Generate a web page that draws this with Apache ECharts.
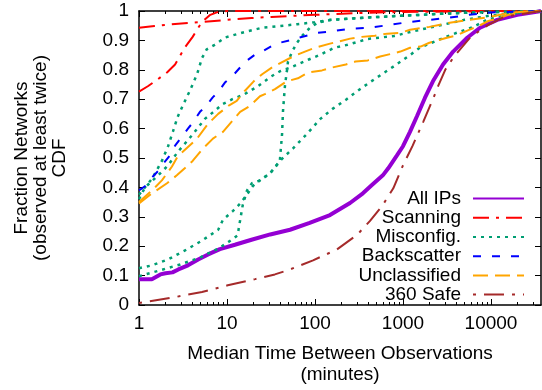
<!DOCTYPE html>
<html>
<head>
<meta charset="utf-8">
<script src="https://cdn.jsdelivr.net/npm/echarts@6/dist/echarts.min.js"></script>
<style>
  html, body { margin: 0; padding: 0; background: #fff; }
  #chart { width: 542px; height: 390px; }
</style>
</head>
<body>
<div id="chart"></div>
<script>
// Median time between observations (minutes) vs. cumulative fraction of networks.
// Each curve is a list of [minutes, fraction] points.

const xMajorTicks = [1, 10, 100, 1000, 10000];
const xMinorTicks = [2, 3, 4, 5, 6, 7, 8, 9, 20, 30, 40, 50, 60, 70, 80, 90,
  200, 300, 400, 500, 600, 700, 800, 900, 2000, 3000, 4000, 5000, 6000, 7000, 8000, 9000,
  20000, 30000];
const xMax = 37000;

const allIps = [[1, 0.088], [1.4, 0.088], [1.75, 0.104], [2.0, 0.108], [2.4, 0.111], [2.8, 0.121],
  [3.6, 0.135], [4.7, 0.155], [6.1, 0.172], [8.3, 0.19], [12.3, 0.205], [19, 0.222], [31, 0.24],
  [52, 0.256], [87, 0.279], [148, 0.306], [250, 0.347], [350, 0.38], [440, 0.407], [590, 0.441],
  [680, 0.465], [850, 0.508], [1000, 0.54], [1200, 0.589], [1445, 0.643], [1778, 0.705],
  [2188, 0.761], [2851, 0.818], [3715, 0.862], [5370, 0.909], [7500, 0.943], [11750, 0.97],
  [19950, 0.987], [33000, 0.997], [37000, 1.0]];

const scanningA = [[1, 0.943], [1.5, 0.949], [2.57, 0.956], [5.2, 0.963], [10.2, 0.97], [19, 0.976],
  [32, 0.98], [100, 0.987], [316, 0.993], [1000, 0.997], [37000, 1.0]];
const scanningB = [[1, 0.726], [1.26, 0.744], [1.64, 0.768], [2.08, 0.791], [2.57, 0.818], [3.3, 0.875],
  [4.07, 0.912], [5.2, 0.963], [6.46, 0.987], [7.94, 0.997], [10, 1.0], [37000, 1.0]];

const misconfigA = [[1, 0.375], [1.41, 0.43], [1.82, 0.49], [2.14, 0.54], [2.43, 0.59], [2.75, 0.64],
  [3.16, 0.68], [3.8, 0.73], [4.57, 0.785], [5.2, 0.84], [5.9, 0.87], [7.24, 0.885], [9.55, 0.91],
  [14.8, 0.926], [25, 0.943], [32, 0.946], [63, 0.955], [100, 0.962], [158, 0.97], [398, 0.978],
  [1000, 0.984], [2512, 0.99], [6310, 0.995], [37000, 1.0]];
const misconfigB = [[1, 0.36], [1.17, 0.40], [1.64, 0.44], [2.14, 0.475], [2.75, 0.52], [4.07, 0.58],
  [5.6, 0.633], [7.24, 0.66], [8.9, 0.683], [11.5, 0.70], [15.8, 0.717], [22.4, 0.744], [32, 0.778],
  [40, 0.795], [55, 0.81], [85, 0.835], [112, 0.85], [166, 0.875], [234, 0.885], [398, 0.905],
  [794, 0.915], [1259, 0.93], [2512, 0.95], [5012, 0.97], [10000, 0.985], [37000, 1.0]];
const misconfigC = [[1, 0.125], [1.41, 0.135], [2.14, 0.155], [3.3, 0.185], [5.2, 0.219], [7.94, 0.256],
  [9.0, 0.29], [11.7, 0.32], [14.1, 0.345], [17, 0.377], [19.7, 0.405], [23.7, 0.424], [30.9, 0.448],
  [39.8, 0.49], [56, 0.532], [81, 0.582], [115, 0.633], [158, 0.667], [229, 0.70], [324, 0.734],
  [422, 0.758], [769, 0.81], [1202, 0.85], [1549, 0.875], [2455, 0.90], [4074, 0.926], [6310, 0.946],
  [8913, 0.97], [15849, 0.99], [37000, 1.0]];
const misconfigD = [[1, 0.098], [1.74, 0.118], [2.95, 0.138], [5.0, 0.162], [8.3, 0.195], [11.7, 0.225],
  [13.2, 0.237], [14.06, 0.286], [15.1, 0.34], [16.9, 0.39], [19.2, 0.414], [23.7, 0.424], [30.9, 0.448],
  [39.8, 0.488], [42.2, 0.58], [43.3, 0.66], [44.5, 0.707], [45.7, 0.75], [47.9, 0.795], [49.3, 0.828],
  [55, 0.862], [62.4, 0.892], [73.1, 0.919], [87.7, 0.943], [107, 0.96], [148, 0.97], [398, 0.978],
  [1000, 0.984], [2512, 0.99], [6310, 0.995], [37000, 1.0]];

const backscatter = [[1, 0.39], [1.17, 0.404], [1.45, 0.438], [1.64, 0.455], [1.97, 0.488], [2.24, 0.508],
  [2.57, 0.542], [2.95, 0.566], [3.6, 0.6], [3.98, 0.616], [4.93, 0.657], [5.62, 0.673], [6.92, 0.707],
  [7.94, 0.724], [9.55, 0.758], [11.5, 0.778], [14.1, 0.808], [15.8, 0.825], [20.9, 0.852], [25.1, 0.862],
  [33.1, 0.883], [39.8, 0.892], [55, 0.902], [64.6, 0.909], [87.1, 0.919], [107, 0.926], [148, 0.93],
  [251, 0.94], [422, 0.943], [708, 0.953], [1202, 0.963], [1995, 0.97], [3162, 0.976], [5623, 0.987],
  [10000, 0.995], [37000, 1.0]];

const unclassifiedA = [[1, 0.35], [1.41, 0.39], [1.82, 0.424], [2.37, 0.471], [2.75, 0.505], [4.57, 0.566],
  [6.08, 0.616], [7.94, 0.65], [10.7, 0.68], [12.9, 0.694], [15.8, 0.727], [20, 0.76], [25.1, 0.785],
  [33.1, 0.81], [56.2, 0.845], [76.9, 0.862], [100, 0.875], [148, 0.889], [251, 0.906], [339, 0.912],
  [479, 0.916], [661, 0.923], [933, 0.926], [1202, 0.936], [1995, 0.946], [3388, 0.96], [5754, 0.97],
  [9772, 0.98], [15849, 0.993], [27500, 1.0], [37000, 1.0]];
const unclassifiedB = [[1, 0.345], [1.41, 0.38], [2.08, 0.414], [2.69, 0.441], [3.31, 0.465], [4.07, 0.49],
  [5.33, 0.532], [6.92, 0.566], [9.0, 0.589], [14.1, 0.657], [18.2, 0.677], [23.7, 0.71], [26.9, 0.717],
  [35.1, 0.734], [47.9, 0.761], [64, 0.771], [83.2, 0.791], [120, 0.798], [158, 0.808], [224, 0.818],
  [288, 0.828], [398, 0.832], [550, 0.845], [750, 0.855], [933, 0.862], [1202, 0.875], [1585, 0.879],
  [1995, 0.892], [3162, 0.909], [3981, 0.916], [5623, 0.936], [7244, 0.949], [9333, 0.966],
  [12300, 0.976], [15849, 0.987], [37000, 1.0]];

const safe360 = [[1, 0.007], [2.57, 0.027], [5.2, 0.044], [10.2, 0.067], [20.9, 0.088], [35, 0.104],
  [52, 0.121], [95, 0.152], [178, 0.189], [302, 0.239], [422, 0.286], [589, 0.34], [776, 0.397],
  [1000, 0.475], [1288, 0.542], [1698, 0.623], [2188, 0.70], [2512, 0.745], [3020, 0.80], [3800, 0.845],
  [5890, 0.912], [9330, 0.953], [14125, 0.98], [37000, 1.0]];

const yTicks = { min: 0, max: 1, interval: 0.1 };

const FONT = 'Liberation Sans, Arial, Helvetica, sans-serif';
const AXIS_COLOR = '#000';

const COLORS = {
  all: '#9400d3',
  scan: '#ff0000',
  mis: '#009e73',
  back: '#0000ff',
  uncl: '#ffa500',
  safe: '#a52a2a'
};

function curve(name, data, color, width, dash) {
  return {
    name: name,
    type: 'line',
    data: data,
    xAxisIndex: 0,
    yAxisIndex: 0,
    symbol: 'none',
    showSymbol: false,
    smooth: false,
    animation: false,
    silent: true,
    color: color,
    lineStyle: { color: color, width: width, type: dash, cap: 'butt' }
  };
}

const dashScan = [16, 7, 3, 7];
const dashMis = [3, 5];
const dashBack = [8, 11];
const dashUncl = [15, 7];
const dashSafe = [3, 8, 20, 8];

const series = [
  curve('All IPs', allIps, COLORS.all, 4, 'solid'),
  curve('Scanning', scanningA, COLORS.scan, 2, dashScan),
  curve('Scanning', scanningB, COLORS.scan, 2, dashScan),
  curve('Misconfig.', misconfigA, COLORS.mis, 2.5, dashMis),
  curve('Misconfig.', misconfigB, COLORS.mis, 2.5, dashMis),
  curve('Misconfig.', misconfigC, COLORS.mis, 2.5, dashMis),
  curve('Misconfig.', misconfigD, COLORS.mis, 2.5, dashMis),
  curve('Backscatter', backscatter, COLORS.back, 2, dashBack),
  curve('Unclassified', unclassifiedA, COLORS.uncl, 2, dashUncl),
  curve('Unclassified', unclassifiedB, COLORS.uncl, 2, dashUncl),
  curve('360 Safe', safe360, COLORS.safe, 2, dashSafe)
];

function logAxis(position, ticks, tickLen, showLine, showLabels, extra) {
  return Object.assign({
    type: 'log',
    logBase: 10,
    min: 1,
    max: xMax,
    position: position,
    gridIndex: 0,
    offset: 0,
    axisLine: { show: showLine, onZero: false, lineStyle: { color: AXIS_COLOR, width: 1.5 } },
    axisTick: { show: true, inside: true, length: tickLen, customValues: ticks,
      lineStyle: { color: AXIS_COLOR, width: 1 } },
    axisLabel: { show: showLabels, customValues: ticks, margin: 9,
      formatter: function (v) { return String(v); },
      fontFamily: FONT, fontSize: 19, color: '#000' },
    splitLine: { show: false },
    minorTick: { show: false },
    silent: true
  }, extra || {});
}

const chart = echarts.init(document.getElementById('chart'), null, { renderer: 'canvas' });

chart.setOption({
  animation: false,
  backgroundColor: '#fff',
  textStyle: { fontFamily: FONT },
  grid: { left: 139, right: 1, top: 11, bottom: 82, containLabel: false },
  xAxis: [
    logAxis('bottom', xMajorTicks, 6, true, true, {
      name: 'Median Time Between Observations\n(minutes)',
      nameLocation: 'middle',
      nameGap: 38,
      nameTextStyle: { fontFamily: FONT, fontSize: 19, color: '#000', lineHeight: 21 }
    }),
    logAxis('bottom', xMinorTicks, 3, false, false),
    logAxis('top', xMajorTicks, 6, true, false),
    logAxis('top', xMinorTicks, 3, false, false)
  ],
  yAxis: [
    {
      type: 'value',
      min: yTicks.min,
      max: yTicks.max,
      interval: yTicks.interval,
      position: 'left',
      axisLine: { show: true, onZero: false, lineStyle: { color: AXIS_COLOR, width: 1.5 } },
      axisTick: { show: true, inside: true, length: 6, lineStyle: { color: AXIS_COLOR, width: 1 } },
      axisLabel: { margin: 10, fontFamily: FONT, fontSize: 19, color: '#000' },
      splitLine: { show: false },
      name: 'Fraction Networks\n(observed at least twice)\nCDF',
      nameLocation: 'middle',
      nameRotate: 90,
      nameGap: 70,
      nameTextStyle: { fontFamily: FONT, fontSize: 19, color: '#000', lineHeight: 19 }
    },
    {
      type: 'value',
      min: yTicks.min,
      max: yTicks.max,
      interval: yTicks.interval,
      position: 'right',
      axisLine: { show: true, onZero: false, lineStyle: { color: AXIS_COLOR, width: 1.5 } },
      axisTick: { show: true, inside: true, length: 6, lineStyle: { color: AXIS_COLOR, width: 1 } },
      axisLabel: { show: false },
      splitLine: { show: false }
    }
  ],
  legend: {
    orient: 'vertical',
    align: 'right',
    right: 17,
    top: 189,
    itemWidth: 51,
    itemHeight: 2,
    itemGap: 0,
    padding: 0,
    selectedMode: false,
    itemStyle: { opacity: 0, borderWidth: 0 },
    data: ['All IPs', 'Scanning', 'Misconfig.', 'Backscatter', 'Unclassified', '360 Safe'],
    textStyle: { fontFamily: FONT, fontSize: 19, color: '#000', lineHeight: 19.2,
      padding: [0, 7, 0, 0] }
  },
  series: series
});
</script>
</body>
</html>
